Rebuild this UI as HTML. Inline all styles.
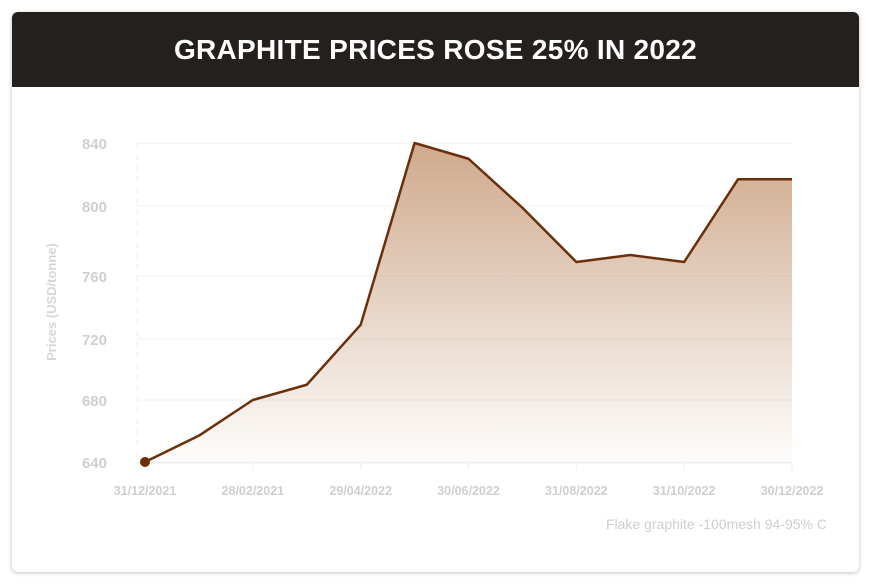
<!DOCTYPE html>
<html><head><meta charset="utf-8"><style>
html,body{margin:0;padding:0;background:#fff;}
body{width:871px;height:587px;position:relative;overflow:hidden;font-family:"Liberation Sans",sans-serif;}
.card{position:absolute;left:12px;top:12px;width:847px;height:560px;background:#fff;border-radius:6px;box-shadow:0 1px 4px rgba(0,0,0,0.25);overflow:hidden;}
.hdr{position:absolute;left:0;top:0;width:847px;height:75px;background:#23201d;color:#fff;font-weight:bold;font-size:28px;text-align:center;line-height:76px;letter-spacing:0.3px;}
svg{position:absolute;left:0;top:0;}
</style></head><body>
<div class="card">
<div class="hdr">GRAPHITE PRICES ROSE 25% IN 2022</div>
</div>
<svg id="chart" width="871" height="587">
<defs><linearGradient id="g" x1="0" y1="0" x2="0" y2="1">
<stop offset="0" stop-color="#c9a080" stop-opacity="0.9"/><stop offset="1" stop-color="#c9a080" stop-opacity="0.03"/></linearGradient></defs>
</svg>
<script>
const yTicks=[640,680,720,760,800,840];
const yTickPx=[462,400,339,276,206,143];
const xLabels=["31/12/2021","28/02/2021","29/04/2022","30/06/2022","31/08/2022","31/10/2022","30/12/2022"];
const prices=[640,657,680,690,729,840,830,799,768,772,768,817,817];
const NS="http://www.w3.org/2000/svg";
const svg=document.getElementById('chart');
const x0=145,x1=792;
function xs(i){return x0+(x1-x0)*i/(prices.length-1);}
function ys(v){
  for(let k=0;k<yTicks.length-1;k++){
    if(v<=yTicks[k+1]||k==yTicks.length-2){
      const t=(v-yTicks[k])/(yTicks[k+1]-yTicks[k]);
      return yTickPx[k]+t*(yTickPx[k+1]-yTickPx[k]);
    }
  }
}
function mk(tag,attrs,parent){const e=document.createElementNS(NS,tag);for(const a in attrs)e.setAttribute(a,attrs[a]);(parent||svg).appendChild(e);return e;}
yTicks.forEach((v,i)=>{
  const y=ys(v);
  const gl=mk('line',{x1:137,x2:792,y1:y,y2:y,stroke:'#f0f0f0','stroke-width':1});
  
  
  const t=mk('text',{x:107,y:y+6,'text-anchor':'end','font-size':15,'font-weight':'bold',fill:'#cfcfcf'});
  t.textContent=v;
  
  
});
const vl=mk('line',{x1:137,x2:137,y1:143,y2:463,stroke:'#eeeeee','stroke-dasharray':'6 5'});


const ax=mk('line',{x1:137,x2:792,y1:463,y2:463,stroke:'#eeeeee'});


xLabels.forEach((l,i)=>{
  const x=xs(i*2);
  const tk=mk('line',{x1:x,x2:x,y1:463,y2:470,stroke:'#eeeeee'});
  
  
  const t=mk('text',{x:x,y:495,'text-anchor':'middle','font-size':12.5,'font-weight':'bold',fill:'#cfcfcf'});
  t.textContent=l;
  
  
});
let d='',ad='M'+xs(0)+','+ys(640);
prices.forEach((v,i)=>{d+=(i?'L':'M')+xs(i)+','+ys(v);ad+='L'+xs(i)+','+ys(v);});
ad+='L'+xs(prices.length-1)+','+ys(640)+'Z';
const area=mk('path',{d:ad,fill:'url(#g)'});


const line=mk('path',{d:d,fill:'none',stroke:'#6b2f0a','stroke-width':2.5,'stroke-linejoin':'round'});


const dot=mk('circle',{cx:xs(0),cy:ys(prices[0]),r:5,fill:'#6b2f0a'});


const yt=mk('text',{x:0,y:0,transform:'translate(56,302) rotate(-90)','text-anchor':'middle','font-size':13,'font-weight':'bold',fill:'#d6d6d6'});
yt.textContent='Prices (USD/tonne)';


const src=mk('text',{x:827,y:529,'text-anchor':'end','font-size':14,fill:'#cfcfcf'});
src.textContent='Flake graphite -100mesh 94-95% C';


</script>
</body></html>
